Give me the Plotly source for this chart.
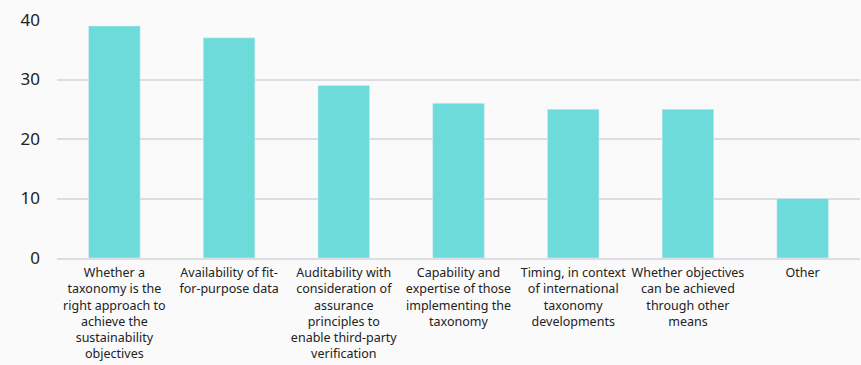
import plotly.graph_objects as go

categories = [
    "Whether a<br>taxonomy is the<br>right approach to<br>achieve the<br>sustainability<br>objectives",
    "Availability of fit-<br>for-purpose data",
    "Auditability with<br>consideration of<br>assurance<br>principles to<br>enable third-party<br>verification",
    "Capability and<br>expertise of those<br>implementing the<br>taxonomy",
    "Timing, in context<br>of international<br>taxonomy<br>developments",
    "Whether objectives<br>can be achieved<br>through other<br>means",
    "Other",
]
values = [39, 37, 29, 26, 25, 25, 10]
y_ticks = [0, 10, 20, 30, 40]

fig = go.Figure(go.Bar(x=categories, y=values, marker_color="#6ddbd9", width=0.45))
fig.update_layout(
    width=861, height=365,
    margin=dict(l=57, r=1, t=20, b=107),
    paper_bgcolor="#fafafb", plot_bgcolor="#fafafb",
    font=dict(family="Noto Sans", color="#222222"),
    showlegend=False,
)
fig.update_xaxes(tickfont=dict(size=12.5), showgrid=False, showline=True, linecolor="#dcdce2", linewidth=2, ticks="", ticklabelstandoff=2)
fig.update_yaxes(range=[0, 40], tickvals=y_ticks, tickfont=dict(size=17), gridcolor="#dcdce2", gridwidth=2, zeroline=False, ticklabelstandoff=16)
fig.write_html(
    "out.html",
    config={"displayModeBar": False},
    post_script="document.body.style.margin='0';document.body.style.background='#fafafb';",
)
